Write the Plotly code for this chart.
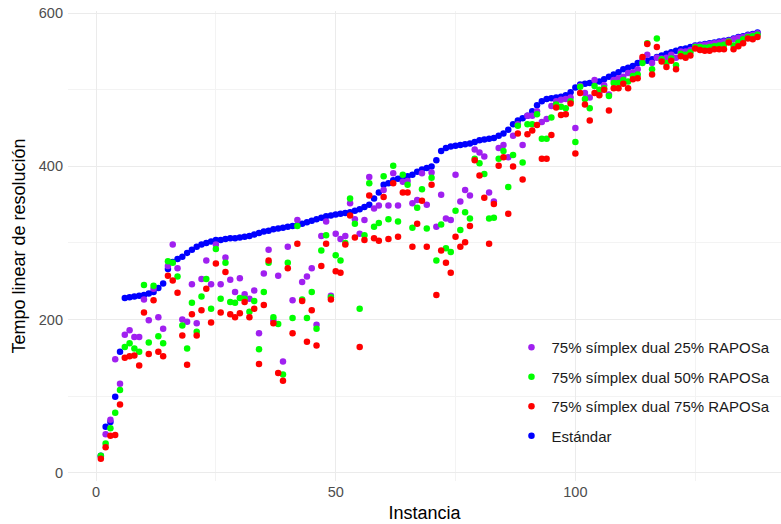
import plotly.graph_objects as go

instancia = list(range(1, 139))

rapo25 = [21, 50, 69, 148, 116, 180, 186, 177, 177, 226, 199, 240, 203, 188, 270, 298, 267, 200, 197, 246,
          195, 253, 277, 246, 298, 246, 281, 252, 236, 254, 233, 227, 238, 182, 260, 291, 199, 257, 145, 295,
          225, 330, 249, 256, 267, 193, 309, 328, 231, 312, 305, 309, 352, 331, 312, 330, 386, 345, 349, 369,
          349, 391, 349, 380, 381, 352, 356, 391, 350, 392, 321, 363, 332, 330, 389, 354, 369, 362, 422, 418,
          413, 366, 354, 424, 428, 412, 440, 455, 428, 466, 466, 472, 458, 462, 479, 485, 487, 488, 490, 450,
          505, 496, 490, 513, 497, 506, 494, 513, 515, 517, 522, 523, 527, 540, 546, 535, 542, 541, 542, 546,
          542, 550, 550, 552, 557, 558, 559, 560, 561, 562, 563, 564, 566, 568, 569, 571, 572, 574]

rapo50 = [22, 38, 58, 78, 108, 164, 169, 162, 158, 245, 170, 244, 178, 169, 276, 274, 256, 192, 162, 222,
          184, 230, 253, 214, 292, 227, 274, 223, 222, 228, 227, 210, 224, 161, 236, 274, 203, 194, 128, 274,
          202, 322, 226, 202, 236, 188, 290, 310, 229, 284, 277, 300, 358, 325, 214, 310, 378, 321, 326, 387,
          331, 401, 328, 389, 376, 320, 346, 370, 319, 385, 277, 324, 293, 288, 342, 317, 340, 332, 410, 404,
          390, 332, 333, 410, 420, 373, 415, 453, 405, 455, 455, 468, 436, 436, 464, 481, 478, 476, 485, 432,
          504, 488, 476, 505, 500, 502, 492, 509, 509, 513, 511, 518, 520, 535, 561, 527, 567, 540, 535, 541,
          532, 547, 546, 549, 556, 556, 555, 556, 557, 558, 559, 563, 558, 562, 566, 569, 570, 572]

rapo75 = [18, 33, 48, 49, 89, 150, 152, 153, 140, 209, 155, 225, 158, 152, 257, 251, 235, 179, 141, 207,
          179, 212, 240, 196, 273, 209, 262, 207, 203, 208, 223, 203, 214, 142, 219, 277, 195, 130, 120, 267,
          182, 299, 224, 171, 212, 166, 270, 299, 226, 263, 261, 298, 336, 307, 164, 304, 362, 306, 303, 360,
          305, 378, 308, 366, 366, 295, 325, 355, 295, 376, 232, 290, 274, 261, 308, 295, 301, 322, 408, 388,
          359, 299, 351, 401, 412, 338, 400, 443, 383, 442, 447, 454, 410, 410, 441, 477, 467, 468, 482, 417,
          496, 481, 460, 496, 493, 500, 473, 502, 502, 508, 502, 514, 515, 543, 560, 520, 556, 537, 530, 538,
          527, 544, 542, 545, 554, 552, 551, 551, 553, 553, 553, 562, 553, 557, 561, 567, 566, 569]

estandar = [22, 60, 66, 99, 158, 228, 229, 230, 231, 232, 234, 236, 241, 247, 266, 275, 279, 282, 287, 291,
            295, 298, 300, 302, 304, 304, 305, 306, 306, 307, 308, 309, 311, 313, 315, 316, 318, 319, 320, 321,
            322, 323, 325, 327, 329, 331, 333, 335, 336, 337, 338, 339, 340, 342, 344, 347, 350, 358, 366, 376,
            378, 382, 384, 386, 387, 389, 393, 396, 398, 400, 408, 420, 424, 426, 427, 428, 429, 430, 432, 434,
            435, 436, 437, 440, 443, 448, 455, 460, 463, 466, 472, 480, 485, 488, 489, 490, 491, 493, 497, 503,
            507, 508, 509, 510, 511, 514, 517, 520, 523, 527, 529, 531, 535, 537, 538, 540, 543, 545, 547, 549,
            551, 553, 554, 556, 558, 559, 560, 561, 562, 563, 564, 565, 567, 569, 570, 572, 573, 575]

series_names = ["75% símplex dual 25% RAPOSa", "75% símplex dual 50% RAPOSa",
                "75% símplex dual 75% RAPOSa", "Estándar"]
series_vals = [rapo25, rapo50, rapo75, estandar]
colors = ["#A020F0", "#00FF00", "#FF0000", "#0000FF"]
draw_order = [3, 0, 1, 2]

FONT = "Liberation Sans, Arial, sans-serif"

fig = go.Figure()
for i in draw_order:
    fig.add_trace(go.Scatter(
        x=instancia, y=series_vals[i], mode="markers", name=series_names[i],
        marker=dict(color=colors[i], size=6.5, line=dict(width=0)),
        legendrank=i + 1, legendgroup=f"g{i}",
    ))

fig.update_layout(
    width=781, height=524,
    margin=dict(l=68, r=0, t=11, b=43),
    paper_bgcolor="white", plot_bgcolor="white",
    font=dict(family=FONT, color="#000000"),
    showlegend=True,
    legend=dict(x=0.622, y=0.319, xanchor="left", yanchor="top",
                bgcolor="rgba(0,0,0,0)", font=dict(size=15, color="#1A1A1A"),
                tracegroupgap=7, itemsizing="trace"),
    xaxis=dict(range=[-5.85, 142.9], tick0=0, dtick=50, showgrid=True,
               gridcolor="#EBEBEB", gridwidth=1.1, zeroline=False, showline=False,
               ticks="", tickfont=dict(size=14.5, color="#4D4D4D"),
               minor=dict(tick0=0, dtick=25, showgrid=True, gridcolor="#F3F3F3", gridwidth=0.6),
               title=dict(text="Instancia", font=dict(size=18, color="#000000"), standoff=7)),
    yaxis=dict(range=[-11, 603], tick0=0, dtick=200, showgrid=True,
               gridcolor="#EBEBEB", gridwidth=1.1, zeroline=False, showline=False,
               ticks="", tickfont=dict(size=14.5, color="#4D4D4D"), ticklabelstandoff=4,
               minor=dict(tick0=0, dtick=100, showgrid=True, gridcolor="#F3F3F3", gridwidth=0.6),
               title=dict(text="Tempo linear de resolución", font=dict(size=18, color="#000000"), standoff=8)),
)

fig.write_html("out.html")
